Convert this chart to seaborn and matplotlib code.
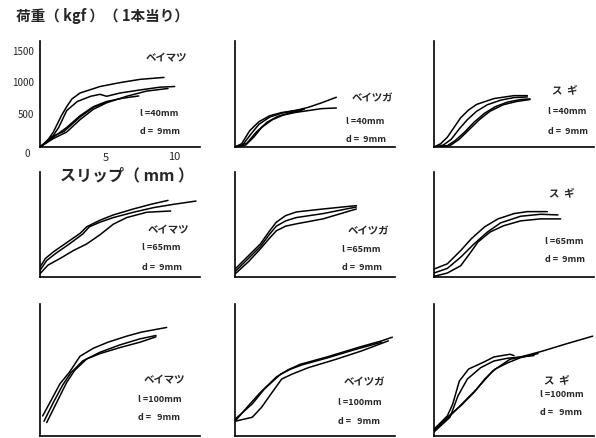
import matplotlib

matplotlib.use("Agg")
import matplotlib.pyplot as plt
import pandas as pd
import seaborn as sns

# slip (mm), load (kgf), one list of curves per panel
beimatsu_40 = [
    [(0, 0), (0.5, 80), (1.0, 230), (1.6, 480), (2.0, 620), (2.4, 740), (3.0, 830), (4.5, 930), (6.0, 990), (7.5, 1040), (9.3, 1070)],
    [(0, 0), (0.8, 120), (1.4, 300), (2.0, 560), (2.8, 700), (3.8, 780), (4.5, 810), (5.0, 780), (6.0, 830), (7.6, 880), (9.0, 920), (10.1, 930)],
    [(0, 0), (1.0, 150), (2.0, 300), (3.0, 480), (4.0, 620), (5.0, 700), (6.2, 750), (7.4, 785)],
    [(0, 0), (1.0, 130), (2.0, 230), (3.0, 420), (4.0, 580), (5.0, 680), (6.5, 780), (8.0, 860), (9.6, 900)],
    [(0, 0), (0.8, 150), (1.8, 240), (3.0, 460), (4.0, 610), (5.0, 690)],
]
beitsuga_40 = [
    [(0, 0), (0.6, 40), (1.2, 200), (1.8, 350), (2.6, 460), (3.5, 520), (4.5, 560), (5.5, 610), (6.5, 680), (7.6, 765)],
    [(0, 0), (0.8, 30), (1.4, 150), (2.0, 300), (2.8, 420), (3.6, 490), (4.5, 530), (5.5, 560), (6.5, 590), (7.6, 600)],
    [(0, 0), (0.5, 50), (1.1, 250), (1.8, 390), (2.6, 480), (3.5, 530), (4.5, 560), (5.2, 580)],
    [(0, 0), (0.9, 60), (1.6, 230), (2.4, 380), (3.2, 470), (4.2, 530), (5.0, 560)],
]
sugi_40 = [
    [(0, 0), (0.5, 50), (1.0, 150), (1.5, 300), (2.0, 450), (2.6, 570), (3.2, 655), (4.5, 745), (6.0, 790), (7.0, 790)],
    [(0, 0), (0.7, 30), (1.3, 120), (1.9, 280), (2.5, 420), (3.2, 550), (4.0, 650), (5.0, 720), (6.0, 760), (7.0, 770)],
    [(0, 0), (1.0, 20), (1.6, 100), (2.3, 230), (3.0, 380), (3.8, 520), (4.6, 620), (5.5, 690), (6.5, 730), (7.2, 740)],
    [(0, 0), (1.2, 20), (1.9, 120), (2.6, 260), (3.4, 420), (4.2, 550), (5.2, 650), (6.2, 700), (7.2, 730)],
]
beimatsu_65 = [
    [(0, 150), (0.4, 280), (1.0, 380), (2.0, 520), (3.0, 660), (3.5, 760), (4.5, 860), (5.5, 940), (7.0, 1030), (8.3, 1100), (9.6, 1160)],
    [(0, 100), (0.5, 250), (1.2, 360), (2.2, 500), (3.2, 650), (3.7, 760), (4.5, 830), (5.5, 900), (7.0, 980), (8.5, 1050), (10.0, 1100), (11.7, 1150)],
    [(0, 50), (0.6, 180), (1.5, 280), (2.5, 400), (3.5, 500), (4.5, 640), (5.5, 800), (6.5, 900), (8.0, 980), (9.8, 1000)],
]
beitsuga_65 = [
    [(0, 120), (1.0, 320), (1.9, 500), (2.6, 700), (3.1, 830), (3.8, 930), (4.6, 985), (6.6, 1030), (8.8, 1075), (9.1, 1080)],
    [(0, 80), (1.0, 280), (1.9, 460), (2.6, 650), (3.1, 770), (3.8, 850), (4.6, 900), (6.6, 960), (9.1, 1060)],
    [(0, 45), (1.0, 230), (1.9, 425), (2.6, 590), (3.1, 700), (3.8, 770), (4.6, 805), (6.6, 880), (9.1, 1030)],
]
sugi_65 = [
    [(0, 120), (1.0, 200), (2.0, 400), (2.8, 580), (3.8, 760), (4.8, 880), (6.0, 960), (7.0, 990), (8.5, 990)],
    [(0, 60), (1.0, 130), (2.0, 300), (3.0, 500), (4.0, 680), (5.0, 820), (6.5, 920), (8.0, 950), (9.3, 940)],
    [(0, 10), (1.0, 60), (2.0, 170), (2.7, 360), (3.3, 530), (4.2, 680), (5.2, 775), (6.5, 850), (8.0, 880), (9.5, 880)],
]
beimatsu_100 = [
    [(0.2, 300), (0.8, 520), (1.5, 780), (2.2, 950), (2.5, 1040), (3.0, 1190), (4.0, 1310), (5.1, 1400), (6.5, 1490), (7.6, 1550), (9.5, 1620)],
    [(0.3, 220), (1.0, 500), (1.7, 760), (2.3, 940), (3.2, 1120), (4.5, 1250), (6.0, 1360), (7.5, 1450), (8.7, 1500)],
    [(0.5, 200), (1.2, 480), (2.0, 800), (2.6, 980), (3.5, 1150), (4.5, 1230), (6.0, 1320), (7.5, 1400), (8.7, 1480)],
]
beitsuga_100 = [
    [(0, 220), (1.0, 450), (1.9, 650), (3.1, 880), (4.0, 990), (4.9, 1070), (6.9, 1180), (9.3, 1325), (11.0, 1420), (11.8, 1475)],
    [(0, 250), (1.3, 480), (2.2, 700), (3.4, 920), (4.2, 1000), (5.0, 1060), (7.0, 1170), (9.0, 1290), (11.0, 1400)],
    [(0, 220), (1.3, 280), (2.0, 430), (2.6, 600), (3.5, 850), (4.3, 925), (5.5, 1020), (7.5, 1140), (9.5, 1270), (11.5, 1420)],
]
sugi_100 = [
    [(0, 80), (1.2, 300), (2.5, 560), (3.2, 700), (4.4, 970), (5.7, 1145), (6.4, 1175), (8.1, 1265), (10.0, 1380), (11.9, 1490)],
    [(0, 100), (1.0, 300), (1.4, 475), (1.9, 820), (2.6, 1000), (3.7, 1100), (4.5, 1180), (5.7, 1220), (6.0, 1200)],
    [(0, 60), (1.2, 280), (1.8, 600), (2.5, 850), (3.5, 1020), (4.5, 1120), (5.5, 1160), (6.5, 1180), (7.5, 1200)],
    [(0, 100), (1.0, 280), (2.0, 450), (3.0, 650), (3.8, 850), (4.6, 1000), (5.5, 1090), (6.5, 1170), (7.8, 1230)],
]

panels = [
    [beimatsu_40, beitsuga_40, sugi_40],
    [beimatsu_65, beitsuga_65, sugi_65],
    [beimatsu_100, beitsuga_100, sugi_100],
]
species = ["ベイマツ", "ベイツガ", "ス  ギ"]
lengths = ["l =40mm", "l =65mm", "l =100mm"]
diameter = ["d =  9mm", "d =  9mm", "d =   9mm"]
load_ticks = [500, 1000, 1500]
load_tick_labels = ["500", "1000", "1500"]
slip_ticks = [5, 10]

W, H = 596, 439


def px_box(x0, y0, x1, y1):
    return [x0 / W, 1 - y1 / H, (x1 - x0) / W, (y1 - y0) / H]


def px_text(x, y, s, **kw):
    fig.text(x / W, 1 - y / H, s, **kw)


def to_frame(curves):
    rows = []
    for i, curve in enumerate(curves):
        for order, (slip, load) in enumerate(curve):
            rows.append({"curve": i, "order": order, "slip": slip, "load": load})
    return pd.DataFrame(rows)


sns.set_style("white")
plt.rcParams["font.family"] = ["Noto Sans CJK JP", "DejaVu Sans"]

fig = plt.figure(figsize=(W / 100, H / 100), dpi=100)

col_left = [40, 235, 434]
row_span = [(42, 148), (173, 278), (305, 437)]
row_ytop = [1630, 1590, 1970]

# label anchors (left x, rows y) for each panel
label_pos = [
    [(140, [58, 113, 132]), (346, [98, 122, 140]), (548, [90, 112, 132])],
    [(142, [230, 248, 268]), (342, [232, 250, 268]), (545, [193, 242, 260])],
    [(138, [380, 400, 418]), (338, [383, 403, 422]), (540, [380, 395, 413])],
]

for r in range(3):
    y0, y1 = row_span[r]
    for c in range(3):
        x0 = col_left[c]
        ax = fig.add_axes(px_box(x0, y0, x0 + 160, y1))
        df = to_frame(panels[r][c])
        sns.lineplot(data=df, x="slip", y="load", units="curve", estimator=None,
                     sort=False, color="black", linewidth=1.1, ax=ax,
                     solid_joinstyle="round", solid_capstyle="round")
        ax.set_xlim(0, 12)
        ax.set_ylim(0, row_ytop[r])
        ax.set_xticks(slip_ticks)
        ax.set_yticks(load_ticks)
        ax.set_xticklabels([])
        ax.set_yticklabels([])
        ax.set_xlabel("")
        ax.set_ylabel("")
        ax.tick_params(direction="inout", length=3, width=1.0, colors="black")
        for side in ["top", "right"]:
            ax.spines[side].set_visible(False)
        for side in ["left", "bottom"]:
            ax.spines[side].set_color("black")
            ax.spines[side].set_linewidth(1.2)
        ax.patch.set_alpha(0)

        lx, ly = label_pos[r][c]
        sp_x = lx + 6 if c < 2 else lx + 4
        px_text(sp_x, ly[0], species[c], fontsize=7.5, fontweight="bold", va="center")
        px_text(lx, ly[1], lengths[r], fontsize=6.5, fontweight="bold", va="center")
        px_text(lx, ly[2], diameter[r], fontsize=6.5, fontweight="bold", va="center")

# axis titles and tick labels of the first panel only
px_text(16, 16, "荷重（ kgf ）（ 1本当り）", fontsize=10.5, fontweight="bold", va="center")
px_text(60, 175, "スリップ（ mm ）", fontsize=11.5, fontweight="bold", va="center")
for lab, ypx in zip(load_tick_labels, [115, 83, 52]):
    px_text(34, ypx, lab, fontsize=7, style="italic", ha="right", va="center")
px_text(27, 154, "0", fontsize=7, style="italic", ha="center", va="center")
px_text(106, 158, "5", fontsize=8, style="italic", ha="center", va="center")
px_text(174, 157, "10", fontsize=8, style="italic", ha="center", va="center")

fig.savefig("out.png", dpi=100, facecolor="white")
